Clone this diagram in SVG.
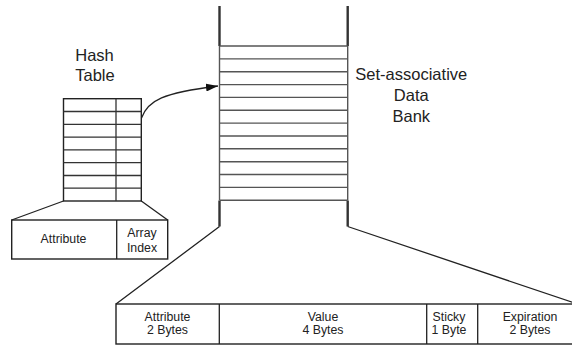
<svg xmlns="http://www.w3.org/2000/svg" width="572" height="345" viewBox="0 0 572 345">
<style>
.t{font-family:"Liberation Sans",Arial,sans-serif;fill:#222;text-anchor:middle}
.big{font-size:16.5px}
.sm{font-size:12.3px}
.box{fill:#fff;stroke:#222;stroke-width:1.4}
.row{stroke:#333;stroke-width:1.3;fill:none}
.bank{stroke:#555;stroke-width:1.4;fill:none}
.wall{stroke:#333;stroke-width:2.4;fill:none}
.ln{stroke:#222;stroke-width:1.3;fill:none}
</style>
<defs>
<marker id="ah" viewBox="0 0 12 8" refX="12" refY="4" markerWidth="12" markerHeight="8" markerUnits="userSpaceOnUse" orient="auto">
<path d="M0,0 L12,4 L0,8 Z" fill="#111"/>
</marker>
</defs>
<rect width="572" height="345" fill="#fff"/>

<g id="hash-table">
<text class="t big" x="94.5" y="61">Hash</text>
<text class="t big" x="95" y="80.7">Table</text>
<rect class="box" x="63.5" y="98.7" width="77.8" height="102.3"/>
<path class="row" d="M63.5,111.5H141.3M63.5,124.3H141.3M63.5,137.1H141.3M63.5,149.9H141.3M63.5,162.7H141.3M63.5,175.5H141.3M63.5,188.2H141.3M116,98.7V201"/>
</g>

<g id="hash-entry">
<rect class="box" x="11.7" y="220" width="156" height="39"/>
<line class="ln" x1="116.7" y1="220" x2="116.7" y2="259"/>
<text class="t sm" x="63.5" y="243.3">Attribute</text>
<text class="t sm" x="142" y="236.5">Array</text>
<text class="t sm" x="142" y="251.5">Index</text>
</g>

<g id="data-bank">
<path class="wall" d="M219.5,6V46M347.7,6V46M219.5,200.5V226.5M347.7,200.5V226.5"/>
<path class="bank" d="M219.5,46H347.7M219.5,58.9H347.7M219.5,71.7H347.7M219.5,84.6H347.7M219.5,97.4H347.7M219.5,110.3H347.7M219.5,123.1H347.7M219.5,136H347.7M219.5,148.8H347.7M219.5,161.7H347.7M219.5,174.5H347.7M219.5,187.4H347.7M219.5,200.3H347.7M219.5,46V200.3M347.7,46V200.3"/>
<text class="t big" x="411.3" y="80">Set-associative</text>
<text class="t big" x="411.3" y="101">Data</text>
<text class="t big" x="411.3" y="121.5">Bank</text>
</g>

<g id="bank-entry">
<rect class="box" x="116" y="304" width="467" height="40"/>
<path class="ln" d="M219.3,304V344M426.7,304V344M477.7,304V344"/>
<text class="t sm" x="167.5" y="321">Attribute</text>
<text class="t sm" x="167.5" y="334">2 Bytes</text>
<text class="t sm" x="323" y="321">Value</text>
<text class="t sm" x="323" y="334">4 Bytes</text>
<text class="t sm" x="449" y="321">Sticky</text>
<text class="t sm" x="449" y="334">1 Byte</text>
<text class="t sm" x="530" y="321">Expiration</text>
<text class="t sm" x="530" y="334">2 Bytes</text>
</g>

<g id="connectors">
<path class="ln" d="M63.5,201L11.7,220M141.3,201L167.7,220"/>
<path class="ln" d="M219.5,226.5L116,304M347.7,226.5L573,302.5"/>
<path class="ln" d="M141.5,118C148,100 163,93 218,86" marker-end="url(#ah)"/>
</g>
</svg>
